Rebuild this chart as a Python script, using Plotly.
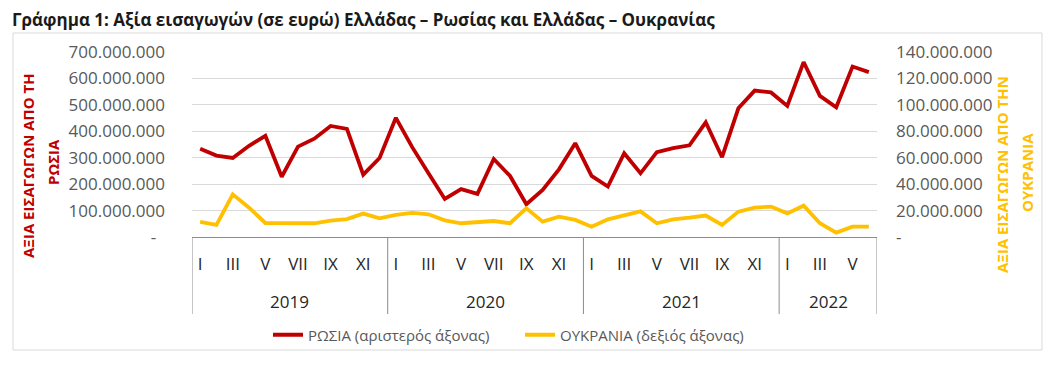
import plotly.graph_objects as go

years = ["2019", "2020", "2021", "2022"]
months_per_year = [12, 12, 12, 6]
month_labels = ["I", "", "III", "", "V", "", "VII", "", "IX", "", "XI", ""]

russia = [334e6, 308e6, 299e6, 345e6, 383e6, 228e6, 342e6, 372e6, 420e6, 409e6, 236e6, 299e6,
          451e6, 340e6, 241e6, 144e6, 181e6, 163e6, 295e6, 231e6, 124e6, 178e6, 256e6, 355e6,
          231e6, 191e6, 317e6, 241e6, 321e6, 336e6, 347e6, 434e6, 302e6, 487e6, 554e6, 547e6,
          496e6, 662e6, 534e6, 491e6, 645e6, 624e6]
ukraine = [11.4e6, 9.1e6, 32.3e6, 22.2e6, 10.6e6, 10.6e6, 10.6e6, 10.4e6, 12.4e6, 13.6e6, 17.7e6, 14.1e6,
           16.7e6, 18.2e6, 17.2e6, 12.6e6, 10.4e6, 11.6e6, 12.1e6, 10.4e6, 21.7e6, 11.6e6, 15.4e6, 12.9e6,
           7.8e6, 13.4e6, 16.7e6, 19.4e6, 10.4e6, 13.4e6, 14.6e6, 16.2e6, 9.1e6, 19.2e6, 22.2e6, 23.0e6,
           17.9e6, 23.7e6, 10.4e6, 3.3e6, 7.8e6, 7.8e6]

left_ticks = [0, 100e6, 200e6, 300e6, 400e6, 500e6, 600e6, 700e6]
right_ticks = [0, 20e6, 40e6, 60e6, 80e6, 100e6, 120e6, 140e6]

RED = "#C00000"
YELLOW = "#FFC000"
FONT = "Open Sans"

# the page body adds an 8px margin, so the figure is laid out 8px smaller/shifted
OFF = 8
W, H = 1058 - OFF, 366 - OFF
L, R, T, B = 192 - OFF, 877 - OFF, 52 - OFF, 237 - OFF
pw, ph = R - L, B - T


def fmt(v, zero):
    if v == 0:
        return zero
    return f"{int(v):,}".replace(",", ".")


def px_x(x):
    return (x - OFF - L) / pw


def px_y(y):
    return (B - (y - OFF)) / ph


idx = list(range(len(russia)))
tickvals, ticktext = [], []
i = 0
for n in months_per_year:
    for m in range(n):
        if month_labels[m]:
            tickvals.append(i)
            ticktext.append(month_labels[m])
        i += 1

fig = go.Figure()
fig.add_trace(go.Scatter(x=idx, y=russia, mode="lines", name="ΡΩΣΙΑ (αριστερός άξονας)",
                         line=dict(color=RED, width=3.8)))
fig.add_trace(go.Scatter(x=idx, y=ukraine, mode="lines", name="ΟΥΚΡΑΝΙΑ (δεξιός άξονας)",
                         line=dict(color=YELLOW, width=3.8), yaxis="y2"))

shapes = []
bounds = [-0.5]
for n in months_per_year:
    bounds.append(bounds[-1] + n)
for b in bounds:
    shapes.append(dict(type="line", xref="x", yref="paper", x0=b, x1=b, y0=0, y1=px_y(314),
                       line=dict(color="#8C8C8C", width=1)))
shapes.append(dict(type="rect", xref="paper", yref="paper", x0=px_x(13), x1=px_x(1042),
                   y0=px_y(350), y1=px_y(33), line=dict(color="#D9D9D9", width=1), layer="below"))

annotations = []
start = 0
for yname, n in zip(years, months_per_year):
    annotations.append(dict(x=start + (n - 1) / 2, xref="x", y=px_y(301), yref="paper",
                            text=yname, showarrow=False, yanchor="middle",
                            font=dict(family=FONT, size=17, color="#262626")))
    start += n

for txt, xs, yc, col in [("ΑΞΙΑ ΕΙΣΑΓΩΓΩΝ ΑΠΟ ΤΗ", 28, 166, RED), ("ΡΩΣΙΑ", 53, 162, RED),
                         ("ΑΞΙΑ ΕΙΣΑΓΩΓΩΝ ΑΠΟ ΤΗΝ", 1002, 175, YELLOW), ("ΟΥΚΡΑΝΙΑ", 1027, 173, YELLOW)]:
    annotations.append(dict(x=px_x(xs), xref="paper", y=px_y(yc), yref="paper", text=f"<b>{txt}</b>",
                            showarrow=False, textangle=-90, xanchor="center", yanchor="middle",
                            font=dict(family=FONT, size=15, color=col)))

fig.update_layout(
    width=W, height=H,
    margin=dict(l=L, r=W - R, t=T, b=H - B),
    paper_bgcolor="white", plot_bgcolor="white",
    font=dict(family=FONT, size=15, color="#595959"),
    title=dict(text="<b>Γράφημα 1: Αξία εισαγωγών (σε ευρώ) Ελλάδας – Ρωσίας και Ελλάδας – Ουκρανίας</b>",
               x=(12 - OFF) / W, xref="container", xanchor="left", y=1 - 12 / H, yref="container",
               yanchor="middle", font=dict(family=FONT, size=17, color="#1A1A1A")),
    xaxis=dict(range=[-0.5, len(russia) - 0.5], tickvals=tickvals, ticktext=ticktext, showgrid=False,
               zeroline=False, showline=True, linecolor="#8C8C8C", linewidth=1, ticks="",
               ticklabelstandoff=12, tickfont=dict(family=FONT, size=17, color="#262626")),
    yaxis=dict(range=[0, 700e6], tickvals=left_ticks,
               ticktext=[fmt(v, "-\u00a0\u00a0") for v in left_ticks], showgrid=True,
               gridcolor="#D9D9D9", gridwidth=1, zeroline=False, ticks="", ticklabelstandoff=26,
               tickfont=dict(family=FONT, size=17, color="#595959")),
    yaxis2=dict(range=[0, 140e6], tickvals=right_ticks, ticktext=[fmt(v, "-") for v in right_ticks],
                overlaying="y", side="right", showgrid=False, zeroline=False, ticks="",
                ticklabelstandoff=18, tickfont=dict(family=FONT, size=17, color="#595959")),
    legend=dict(orientation="h", x=px_x(268), xanchor="left", y=px_y(335), yanchor="middle",
                entrywidth=207, entrywidthmode="pixels",
                font=dict(family=FONT, size=15, color="#595959"), bgcolor="rgba(0,0,0,0)"),
    shapes=shapes,
    annotations=annotations,
    showlegend=True,
)

fig.write_html("out.html")
